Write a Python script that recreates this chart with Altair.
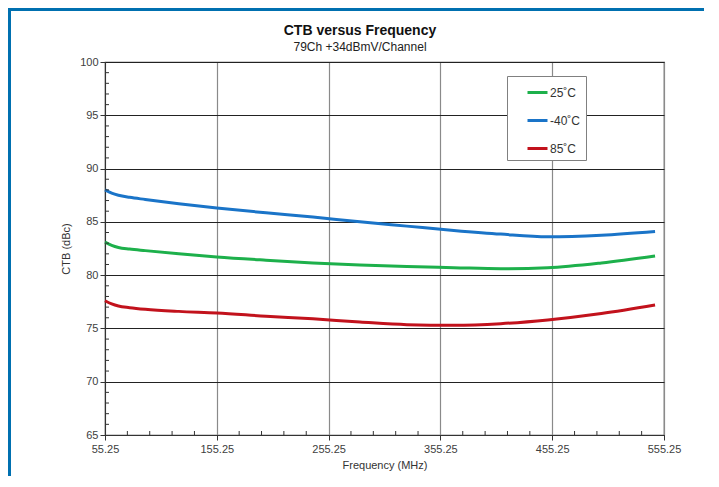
import altair as alt
import pandas as pd

freq = [55.25, 61.25, 67.25, 77.25, 91.25, 121.25, 155.25, 199.25, 241.25,
        283.25, 325.25, 367.25, 409.25, 451.25, 499.25, 547.25]
ctb_25 = [83.1, 82.8, 82.6, 82.45, 82.3, 82.0, 81.7, 81.4, 81.15,
          80.95, 80.8, 80.7, 80.6, 80.7, 81.15, 81.8]
ctb_m40 = [88.0, 87.7, 87.5, 87.3, 87.1, 86.7, 86.3, 85.85, 85.45,
           85.0, 84.6, 84.2, 83.85, 83.6, 83.75, 84.1]
ctb_85 = [77.6, 77.3, 77.1, 76.95, 76.8, 76.6, 76.45, 76.15, 75.9,
          75.6, 75.35, 75.3, 75.45, 75.8, 76.4, 77.2]
series = ["25˚C", "-40˚C", "85˚C"]
colors = ["#1DB04B", "#1A74C8", "#C2121C"]
title_text = "CTB versus Frequency"
subtitle_text = "79Ch +34dBmV/Channel"

x_ticks = [55.25, 155.25, 255.25, 355.25, 455.25, 555.25]
y_ticks = [65, 70, 75, 80, 85, 90, 95, 100]
x_minor = [v for v in [55.25 + 20 * i for i in range(26)] if v not in x_ticks]
y_minor = [v for v in range(65, 101) if v not in y_ticks]

rows = []
for name, vals in zip(series, [ctb_25, ctb_m40, ctb_85]):
    for f, v in zip(freq, vals):
        rows.append({"freq": f, "ctb": v, "series": name})
df = pd.DataFrame(rows)

W, H = 559, 373

xscale = alt.Scale(domain=[55.25, 555.25], nice=False, zero=False)
yscale = alt.Scale(domain=[65, 100], nice=False, zero=False)

lines = alt.Chart(df).mark_line(strokeWidth=3, interpolate="monotone").encode(
    x=alt.X("freq:Q", scale=xscale,
            axis=alt.Axis(values=x_ticks, format=".2f", title="Frequency (MHz)",
                          gridColor="#8a8a8a", gridWidth=1.2, labelFlush=False)),
    y=alt.Y("ctb:Q", scale=yscale,
            axis=alt.Axis(values=y_ticks, format="d", title="CTB (dBc)",
                          gridColor="#222222", gridWidth=1.1, labelFlush=False)),
    color=alt.Color("series:N",
                    scale=alt.Scale(domain=series, range=colors),
                    legend=alt.Legend(title=None, orient="none", legendX=402, legendY=14,
                                      symbolType="stroke", symbolSize=400,
                                      symbolStrokeWidth=3, symbolOffset=14,
                                      labelOffset=1, labelFontSize=12,
                                      labelColor="#333333", labelFont="Liberation Sans",
                                      labelExpr="datum.label + '\u00a0\u00a0'",
                                      rowPadding=10, padding=5,
                                      strokeColor="#808080", fillColor="white")),
)

minor_x = alt.Chart(pd.DataFrame({"v": x_minor})).mark_rule(color="#333333", strokeWidth=1).encode(
    x=alt.X("v:Q", scale=xscale), y=alt.value(H), y2=alt.value(H - 4))
minor_y = alt.Chart(pd.DataFrame({"v": y_minor})).mark_rule(color="#333333", strokeWidth=1).encode(
    y=alt.Y("v:Q", scale=yscale), x=alt.value(0), x2=alt.value(4))

frame = alt.Chart(pd.DataFrame({"a": [0]})).mark_rect(
    fill=None, stroke="#0070B0", strokeWidth=3, clip=False).encode(
    x=alt.value(-95.5), x2=alt.value(W + 200), y=alt.value(-52.5), y2=alt.value(H + 200))

title_mark = alt.Chart(pd.DataFrame({"t": [title_text]})).mark_text(
    font="Liberation Sans", fontSize=14, fontWeight="bold", color="#111111",
    align="center", baseline="middle").encode(
    text="t:N", x=alt.value(255), y=alt.value(-31))
subtitle_mark = alt.Chart(pd.DataFrame({"t": [subtitle_text]})).mark_text(
    font="Liberation Sans", fontSize=12, color="#222222",
    align="center", baseline="middle").encode(
    text="t:N", x=alt.value(255), y=alt.value(-15))

chart = alt.layer(frame, lines, minor_x, minor_y, title_mark, subtitle_mark).properties(
    width=W, height=H,
    autosize=alt.AutoSizeParams(type="none"),
    padding={"left": 97, "top": 54, "right": 40, "bottom": 41},
).configure_view(stroke="#444444", strokeWidth=1.2).configure_axis(
    labelFont="Liberation Sans", labelFontSize=11, labelColor="#404040",
    titleFont="Liberation Sans", titleFontSize=11, titleFontWeight="normal",
    titleColor="#333333", domainColor="#333333", tickColor="#333333",
    tickSize=5, labelPadding=2, grid=True,
).configure_axisX(titlePadding=5, labelPadding=3).configure_axisY(titlePadding=8)

chart.save("out.html", embed_options={"renderer": "svg", "actions": False})
